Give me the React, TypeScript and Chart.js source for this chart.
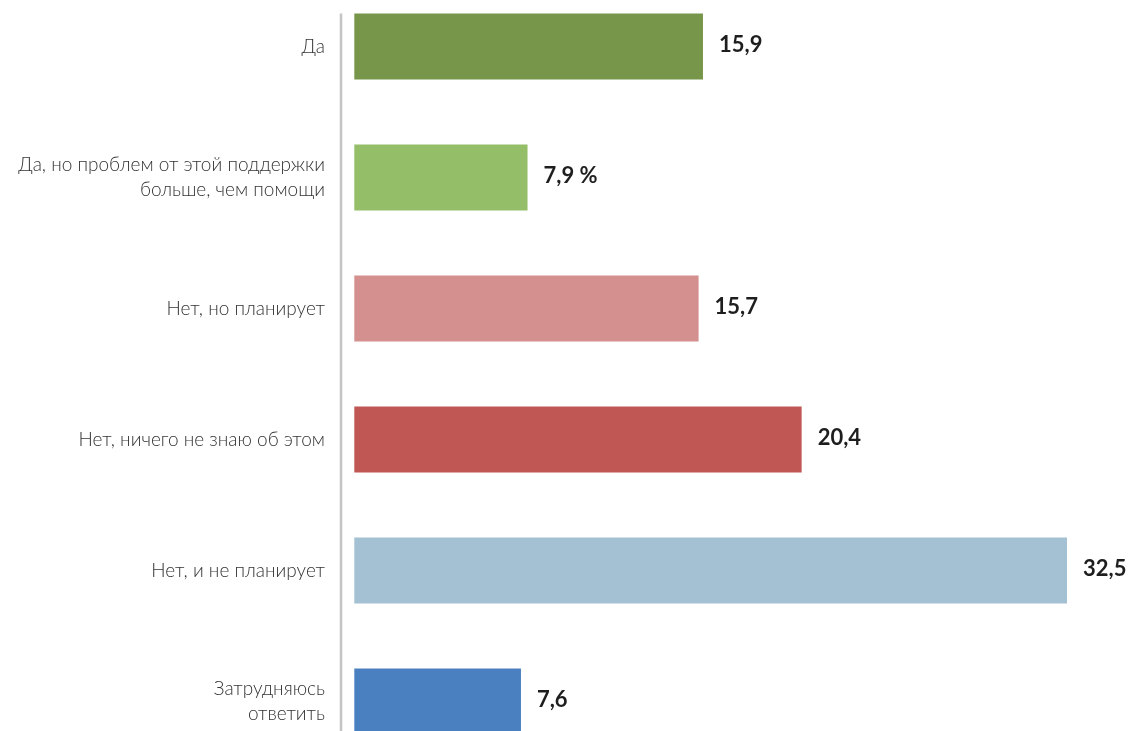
import React, { useEffect, useRef } from "react";
import { Chart, registerables } from "chart.js";

Chart.register(...registerables);

const categories: (string | string[])[] = [
  "Да",
  ["Да, но проблем от этой поддержки", "больше, чем помощи"],
  "Нет, но планирует",
  "Нет, ничего не знаю об этом",
  "Нет, и не планирует",
  ["Затрудняюсь", "ответить"],
];
const values = [15.9, 7.9, 15.7, 20.4, 32.5, 7.6];
const valueLabels = ["15,9", "7,9 %", "15,7", "20,4", "32,5", "7,6"];
const barColors = ["#77964a", "#94bf68", "#d4908e", "#c05755", "#a4c1d3", "#4a80c0"];

const overlayPlugin = {
  id: "overlay",
  afterDatasetsDraw(chart: any) {
    const ctx = chart.ctx;
    const meta = chart.getDatasetMeta(0);
    const area = chart.chartArea;
    ctx.save();
    const first = meta.data[0];
    const top = first.y - first.height / 2;
    ctx.strokeStyle = "#c4c4c4";
    ctx.lineWidth = 2.5;
    ctx.beginPath();
    ctx.moveTo(area.left + 1, top);
    ctx.lineTo(area.left + 1, area.bottom);
    ctx.stroke();
    ctx.fillStyle = "#1e1e1e";
    ctx.font = "bold 22px Lato, 'Open Sans', sans-serif";
    ctx.textAlign = "left";
    ctx.textBaseline = "middle";
    meta.data.forEach((bar: any, i: number) => {
      ctx.fillText(valueLabels[i], bar.x + 16, bar.y - 2);
    });
    ctx.restore();
  },
};

export default function App() {
  const ref = useRef<HTMLCanvasElement | null>(null);
  useEffect(() => {
    document.body.style.margin = "0";
    const chart = new Chart(ref.current as HTMLCanvasElement, {
      type: "bar",
      data: {
        labels: categories,
        datasets: [
          {
            data: values,
            backgroundColor: barColors,
            borderWidth: 0,
            categoryPercentage: 1,
            barPercentage: 0.504,
          },
        ],
      },
      options: {
        indexAxis: "y",
        animation: false,
        responsive: false,
        maintainAspectRatio: false,
        layout: { padding: 0 },
        plugins: {
          legend: { display: false },
          tooltip: { enabled: false },
        },
        scales: {
          x: {
            display: false,
            min: -0.652,
            max: 35.51,
          },
          y: {
            afterFit(scale: any) {
              scale.width = 340;
              scale.paddingTop = 0;
              scale.paddingBottom = 0;
            },
            grid: { display: false, drawTicks: false },
            border: { display: false },
            ticks: {
              padding: 15,
              color: "#333333",
              font: { family: "Lato, 'Open Sans', sans-serif", size: 19, weight: "300", lineHeight: 1.3 },
            },
          },
        },
      },
      plugins: [overlayPlugin],
    } as any);
    return () => chart.destroy();
  }, []);
  return (
    <div
      style={{
        position: "fixed",
        left: 0,
        top: 0,
        width: 1133,
        height: 731,
        overflow: "hidden",
        background: "#ffffff",
      }}
    >
      <canvas
        ref={ref}
        width={1133}
        height={786}
        style={{ position: "absolute", left: 0, top: -19.5, width: 1133, height: 786 }}
      />
    </div>
  );
}
